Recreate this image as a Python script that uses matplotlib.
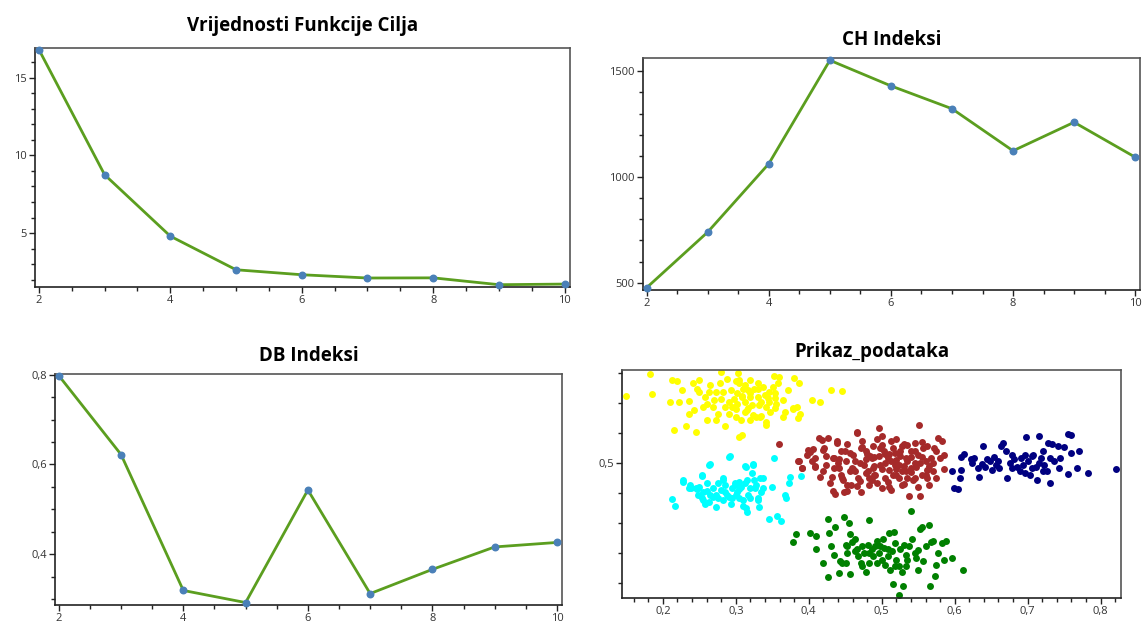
import numpy as np
import matplotlib
matplotlib.use("Agg")
import matplotlib.pyplot as plt
from matplotlib.ticker import MultipleLocator, FuncFormatter

plt.rcParams['font.family'] = ['Open Sans', 'DejaVu Sans']

# k (number of clusters) for the three index charts
k_values = [2, 3, 4, 5, 6, 7, 8, 9, 10]
objective = [16.8, 8.75, 4.8, 2.64, 2.32, 2.11, 2.12, 1.68, 1.72]
ch_index = [477, 740, 1063, 1552, 1431, 1323, 1124, 1259, 1094]
db_index = [0.798, 0.622, 0.319, 0.292, 0.543, 0.312, 0.366, 0.416, 0.426]

# scatter data, one array per cluster (x, y)
yellow_pts = [
    (0.150, 0.612), (0.182, 0.648), (0.185, 0.615), (0.212, 0.638), (0.219, 0.637),
    (0.210, 0.602), (0.222, 0.602), (0.215, 0.555), (0.231, 0.562), (0.245, 0.551),
    (0.236, 0.603), (0.241, 0.633), (0.247, 0.624), (0.250, 0.619), (0.243, 0.588),
    (0.258, 0.610), (0.265, 0.630), (0.273, 0.619), (0.280, 0.651), (0.279, 0.607),
    (0.288, 0.640), (0.285, 0.562), (0.293, 0.621), (0.295, 0.593), (0.303, 0.650),
    (0.305, 0.633), (0.309, 0.547), (0.308, 0.610), (0.312, 0.630), (0.315, 0.588),
    (0.320, 0.610), (0.325, 0.624), (0.330, 0.633), (0.332, 0.596), (0.335, 0.579),
    (0.340, 0.613), (0.342, 0.568), (0.345, 0.619), (0.347, 0.585), (0.352, 0.645),
    (0.354, 0.616), (0.355, 0.599), (0.359, 0.644), (0.367, 0.585), (0.372, 0.621),
    (0.380, 0.641), (0.384, 0.593), (0.387, 0.633), (0.388, 0.582), (0.404, 0.605),
    (0.416, 0.602), (0.431, 0.621), (0.445, 0.620), (0.275, 0.582), (0.260, 0.571),
    (0.268, 0.593), (0.300, 0.576), (0.320, 0.571), (0.327, 0.576), (0.255, 0.593),
    (0.226, 0.621), (0.236, 0.582), (0.298, 0.607), (0.312, 0.602), (0.335, 0.602),
    (0.250, 0.638), (0.290, 0.582), (0.278, 0.633), (0.307, 0.571), (0.345, 0.602),
    (0.364, 0.605), (0.379, 0.590), (0.260, 0.599), (0.270, 0.605), (0.283, 0.619),
    (0.290, 0.602), (0.302, 0.616), (0.317, 0.621), (0.322, 0.596), (0.312, 0.585),
    (0.300, 0.590), (0.337, 0.627), (0.330, 0.610), (0.342, 0.593), (0.285, 0.593),
    (0.273, 0.571), (0.300, 0.636), (0.320, 0.638), (0.263, 0.619),
    (0.305, 0.639), (0.310, 0.623), (0.308, 0.611), (0.319, 0.616), (0.330, 0.623),
    (0.344, 0.608), (0.353, 0.608), (0.351, 0.627), (0.358, 0.634), (0.323, 0.580),
    (0.333, 0.577), (0.342, 0.564), (0.353, 0.591), (0.364, 0.577), (0.378, 0.591),
    (0.385, 0.575), (0.305, 0.544), (0.301, 0.598), (0.316, 0.592),
]
cyan_pts = [
    (0.212, 0.440), (0.216, 0.428), (0.228, 0.469), (0.238, 0.459), (0.246, 0.458),
    (0.253, 0.479), (0.250, 0.460), (0.255, 0.452), (0.258, 0.432), (0.260, 0.466),
    (0.263, 0.497), (0.265, 0.446), (0.268, 0.458), (0.273, 0.427), (0.275, 0.441),
    (0.280, 0.455), (0.283, 0.472), (0.285, 0.463), (0.288, 0.446), (0.290, 0.510),
    (0.293, 0.432), (0.295, 0.458), (0.299, 0.463), (0.302, 0.452), (0.305, 0.441),
    (0.307, 0.460), (0.312, 0.466), (0.314, 0.494), (0.315, 0.418), (0.317, 0.446),
    (0.320, 0.458), (0.324, 0.497), (0.325, 0.472), (0.327, 0.463), (0.330, 0.438),
    (0.332, 0.427), (0.335, 0.452), (0.337, 0.475), (0.345, 0.407), (0.349, 0.460),
    (0.352, 0.508), (0.357, 0.412), (0.362, 0.404), (0.367, 0.446), (0.369, 0.441),
    (0.373, 0.466), (0.374, 0.477), (0.389, 0.479), (0.236, 0.458), (0.248, 0.446),
    (0.263, 0.435), (0.273, 0.446), (0.283, 0.438), (0.300, 0.446), (0.310, 0.429),
    (0.320, 0.441), (0.290, 0.444), (0.305, 0.469), (0.253, 0.441),
    (0.227, 0.472), (0.237, 0.464), (0.247, 0.456), (0.253, 0.480), (0.264, 0.498),
    (0.260, 0.453), (0.255, 0.438), (0.268, 0.444), (0.275, 0.467), (0.282, 0.475),
    (0.285, 0.452), (0.292, 0.511), (0.295, 0.441), (0.299, 0.467), (0.305, 0.456),
    (0.310, 0.438), (0.315, 0.472), (0.312, 0.495), (0.322, 0.484), (0.323, 0.498),
    (0.326, 0.459), (0.333, 0.475), (0.330, 0.441), (0.337, 0.459), (0.314, 0.425),
]
brown_pts = [
    (0.359, 0.532), (0.387, 0.503), (0.390, 0.492), (0.399, 0.521), (0.406, 0.523),
    (0.409, 0.494), (0.414, 0.542), (0.416, 0.476), (0.421, 0.525), (0.424, 0.511),
    (0.426, 0.542), (0.429, 0.466), (0.434, 0.508), (0.436, 0.449), (0.439, 0.537),
    (0.441, 0.492), (0.444, 0.520), (0.446, 0.475), (0.448, 0.452), (0.451, 0.503),
    (0.453, 0.531), (0.456, 0.486), (0.458, 0.463), (0.461, 0.514), (0.466, 0.552),
    (0.468, 0.475), (0.471, 0.452), (0.473, 0.537), (0.476, 0.497), (0.478, 0.520),
    (0.481, 0.486), (0.483, 0.463), (0.486, 0.508), (0.488, 0.528), (0.491, 0.480),
    (0.493, 0.540), (0.496, 0.558), (0.498, 0.497), (0.500, 0.458), (0.503, 0.520),
    (0.505, 0.475), (0.508, 0.508), (0.510, 0.489), (0.513, 0.455), (0.515, 0.525),
    (0.518, 0.497), (0.520, 0.540), (0.523, 0.475), (0.525, 0.511), (0.528, 0.463),
    (0.530, 0.531), (0.533, 0.486), (0.535, 0.503), (0.538, 0.445), (0.540, 0.520),
    (0.543, 0.472), (0.545, 0.534), (0.547, 0.494), (0.550, 0.514), (0.551, 0.564),
    (0.552, 0.445), (0.555, 0.480), (0.557, 0.525), (0.560, 0.503), (0.562, 0.489),
    (0.565, 0.463), (0.567, 0.508), (0.570, 0.486), (0.572, 0.525), (0.577, 0.542),
    (0.580, 0.508), (0.585, 0.514), (0.582, 0.537), (0.397, 0.514), (0.404, 0.503),
    (0.434, 0.492), (0.463, 0.503), (0.478, 0.506), (0.488, 0.492), (0.496, 0.511),
    (0.505, 0.500), (0.513, 0.503), (0.523, 0.497), (0.533, 0.508), (0.540, 0.492),
    (0.498, 0.525), (0.518, 0.517), (0.483, 0.475), (0.463, 0.486), (0.444, 0.480),
    (0.424, 0.497), (0.409, 0.508), (0.552, 0.500), (0.545, 0.475), (0.562, 0.475),
    (0.528, 0.486), (0.508, 0.469), (0.493, 0.466), (0.453, 0.463), (0.471, 0.525),
    (0.513, 0.537), (0.528, 0.528), (0.562, 0.528), (0.575, 0.475), (0.490, 0.510),
    (0.500, 0.490), (0.510, 0.515), (0.520, 0.505), (0.530, 0.495), (0.540, 0.510),
    (0.470, 0.500), (0.480, 0.515), (0.460, 0.490), (0.500, 0.530), (0.520, 0.480),
    (0.545, 0.520), (0.555, 0.510), (0.535, 0.475), (0.490, 0.480), (0.470, 0.470),
    (0.510, 0.460), (0.440, 0.500), (0.450, 0.520), (0.565, 0.495),
    (0.401, 0.519), (0.418, 0.539), (0.438, 0.534), (0.419, 0.522), (0.433, 0.508),
    (0.442, 0.506), (0.408, 0.495), (0.419, 0.487), (0.432, 0.477), (0.447, 0.472),
    (0.459, 0.491), (0.466, 0.550), (0.473, 0.527), (0.456, 0.516), (0.484, 0.511),
    (0.479, 0.484), (0.466, 0.461), (0.452, 0.453), (0.433, 0.453), (0.486, 0.472),
    (0.385, 0.503), (0.390, 0.492), (0.500, 0.545), (0.515, 0.480), (0.525, 0.520),
    (0.535, 0.530), (0.545, 0.500), (0.555, 0.535), (0.560, 0.480), (0.570, 0.500),
    (0.530, 0.465), (0.490, 0.495), (0.505, 0.515), (0.520, 0.490), (0.540, 0.485),
    (0.550, 0.460), (0.575, 0.520), (0.585, 0.490),
]
navy_pts = [
    (0.596, 0.487), (0.599, 0.458), (0.604, 0.456), (0.607, 0.475), (0.609, 0.489),
    (0.609, 0.510), (0.613, 0.515), (0.622, 0.506), (0.627, 0.508), (0.632, 0.492),
    (0.633, 0.476), (0.637, 0.498), (0.639, 0.528), (0.644, 0.507), (0.649, 0.503),
    (0.654, 0.510), (0.659, 0.504), (0.661, 0.492), (0.664, 0.528), (0.666, 0.534),
    (0.670, 0.520), (0.672, 0.475), (0.676, 0.500), (0.681, 0.506), (0.686, 0.494),
    (0.689, 0.486), (0.691, 0.508), (0.694, 0.497), (0.696, 0.483), (0.698, 0.544),
    (0.701, 0.503), (0.703, 0.480), (0.706, 0.511), (0.708, 0.514), (0.711, 0.494),
    (0.713, 0.472), (0.716, 0.545), (0.718, 0.508), (0.721, 0.520), (0.723, 0.497),
    (0.726, 0.486), (0.728, 0.534), (0.730, 0.466), (0.731, 0.508), (0.733, 0.531),
    (0.736, 0.503), (0.741, 0.528), (0.743, 0.492), (0.745, 0.508), (0.750, 0.527),
    (0.755, 0.548), (0.756, 0.482), (0.759, 0.547), (0.760, 0.517), (0.768, 0.492),
    (0.770, 0.520), (0.783, 0.483), (0.821, 0.490), (0.642, 0.494), (0.656, 0.497),
    (0.679, 0.492), (0.706, 0.492), (0.716, 0.500), (0.679, 0.514), (0.651, 0.489),
    (0.624, 0.500), (0.721, 0.486), (0.696, 0.514),
]
green_pts = [
    (0.378, 0.368), (0.382, 0.381), (0.402, 0.384), (0.410, 0.379), (0.410, 0.357),
    (0.419, 0.334), (0.426, 0.407), (0.427, 0.310), (0.428, 0.383), (0.431, 0.362),
    (0.434, 0.346), (0.436, 0.393), (0.441, 0.316), (0.443, 0.337), (0.446, 0.333),
    (0.448, 0.410), (0.451, 0.333), (0.451, 0.364), (0.453, 0.350), (0.455, 0.400),
    (0.456, 0.381), (0.457, 0.315), (0.459, 0.368), (0.463, 0.353), (0.466, 0.357),
    (0.468, 0.345), (0.471, 0.334), (0.473, 0.362), (0.476, 0.350), (0.478, 0.319),
    (0.481, 0.364), (0.482, 0.405), (0.483, 0.334), (0.486, 0.356), (0.488, 0.345),
    (0.491, 0.362), (0.493, 0.370), (0.496, 0.350), (0.498, 0.362), (0.500, 0.339),
    (0.502, 0.373), (0.503, 0.359), (0.505, 0.330), (0.508, 0.345), (0.510, 0.384),
    (0.512, 0.322), (0.514, 0.353), (0.515, 0.299), (0.517, 0.385), (0.518, 0.366),
    (0.520, 0.339), (0.523, 0.328), (0.524, 0.280), (0.525, 0.356), (0.528, 0.319),
    (0.529, 0.295), (0.530, 0.364), (0.533, 0.347), (0.535, 0.339), (0.538, 0.362),
    (0.540, 0.420), (0.542, 0.373), (0.545, 0.350), (0.547, 0.342), (0.550, 0.322),
    (0.550, 0.355), (0.552, 0.390), (0.555, 0.394), (0.557, 0.336), (0.560, 0.362),
    (0.565, 0.397), (0.566, 0.295), (0.567, 0.368), (0.570, 0.370), (0.573, 0.311),
    (0.575, 0.330), (0.577, 0.350), (0.582, 0.367), (0.585, 0.338), (0.588, 0.370),
    (0.596, 0.342), (0.611, 0.322), (0.463, 0.373), (0.483, 0.350), (0.493, 0.333),
    (0.508, 0.356), (0.518, 0.328), (0.533, 0.328), (0.473, 0.328), (0.453, 0.362),
]

clusters = [
    (yellow_pts, '#ffff00'),
    (cyan_pts, '#00ffff'),
    (brown_pts, '#a52a2a'),
    (navy_pts, '#000080'),
    (green_pts, '#008000'),
]

LINE_COLOR = '#5b9e1f'
MARK_COLOR = '#4a80b8'
TICK_COLOR = '#333333'


def comma_fmt(v, pos):
    s = ('%g' % round(v, 4))
    return s.replace('.', ',')


def style_axes(ax):
    for side in ['top', 'right']:
        ax.spines[side].set_color('#555555')
        ax.spines[side].set_linewidth(1.2)
    for side in ['left', 'bottom']:
        ax.spines[side].set_color('#222222')
        ax.spines[side].set_linewidth(1.2)
    ax.tick_params(which='major', length=4, width=1, colors='#222222',
                   labelsize=8, labelcolor=TICK_COLOR, pad=2)
    ax.tick_params(which='minor', length=3, width=1, colors='#222222')
    ax.yaxis.set_major_formatter(FuncFormatter(comma_fmt))
    ax.xaxis.set_major_formatter(FuncFormatter(comma_fmt))


def line_chart(rect, y, title, ylim, ymajor, yminor, title_pad):
    ax = fig.add_axes(rect)
    ax.plot(k_values, y, color=LINE_COLOR, lw=2, zorder=2)
    ax.scatter(k_values, y, color=MARK_COLOR, s=22, zorder=3, clip_on=False)
    ax.set_xlim(1.94, 10.08)
    ax.set_ylim(*ylim)
    ax.xaxis.set_major_locator(MultipleLocator(2))
    ax.xaxis.set_minor_locator(MultipleLocator(0.5))
    ax.yaxis.set_major_locator(MultipleLocator(ymajor))
    ax.yaxis.set_minor_locator(MultipleLocator(yminor))
    style_axes(ax)
    ax.set_title(title, fontsize=13.5, fontweight='bold', pad=title_pad)
    return ax


fig = plt.figure(figsize=(11.46, 6.30), dpi=100)

line_chart([0.0305, 0.5444, 0.4668, 0.3794], objective,
           'Vrijednosti Funkcije Cilja', (1.53, 16.9), 5, 1, 12)
line_chart([0.5611, 0.5397, 0.4337, 0.3683], ch_index,
           'CH Indeksi', (466, 1563), 500, 100, 9.5)
line_chart([0.0480, 0.0397, 0.4424, 0.3667], db_index,
           'DB Indeksi', (0.2866, 0.8015), 0.2, 0.05, 9)
# FIXME: tick label font is not Segoe UI like the original, close enough

ax4 = fig.add_axes([0.5428, 0.0508, 0.4354, 0.3619])
for pts, col in clusters:
    arr = np.array(pts)
    ax4.scatter(arr[:, 0], arr[:, 1], s=25, color=col, linewidths=0, zorder=2)
ax4.set_xlim(0.144, 0.828)
ax4.set_ylim(0.275, 0.655)
ax4.xaxis.set_major_locator(MultipleLocator(0.1))
ax4.xaxis.set_minor_locator(MultipleLocator(0.02))
ax4.yaxis.set_major_locator(MultipleLocator(0.5))
ax4.yaxis.set_minor_locator(MultipleLocator(0.05))
style_axes(ax4)
ax4.set_title('Prikaz_podataka', fontsize=13.5, fontweight='bold', pad=9.5)

fig.savefig('out.png', dpi=100)
